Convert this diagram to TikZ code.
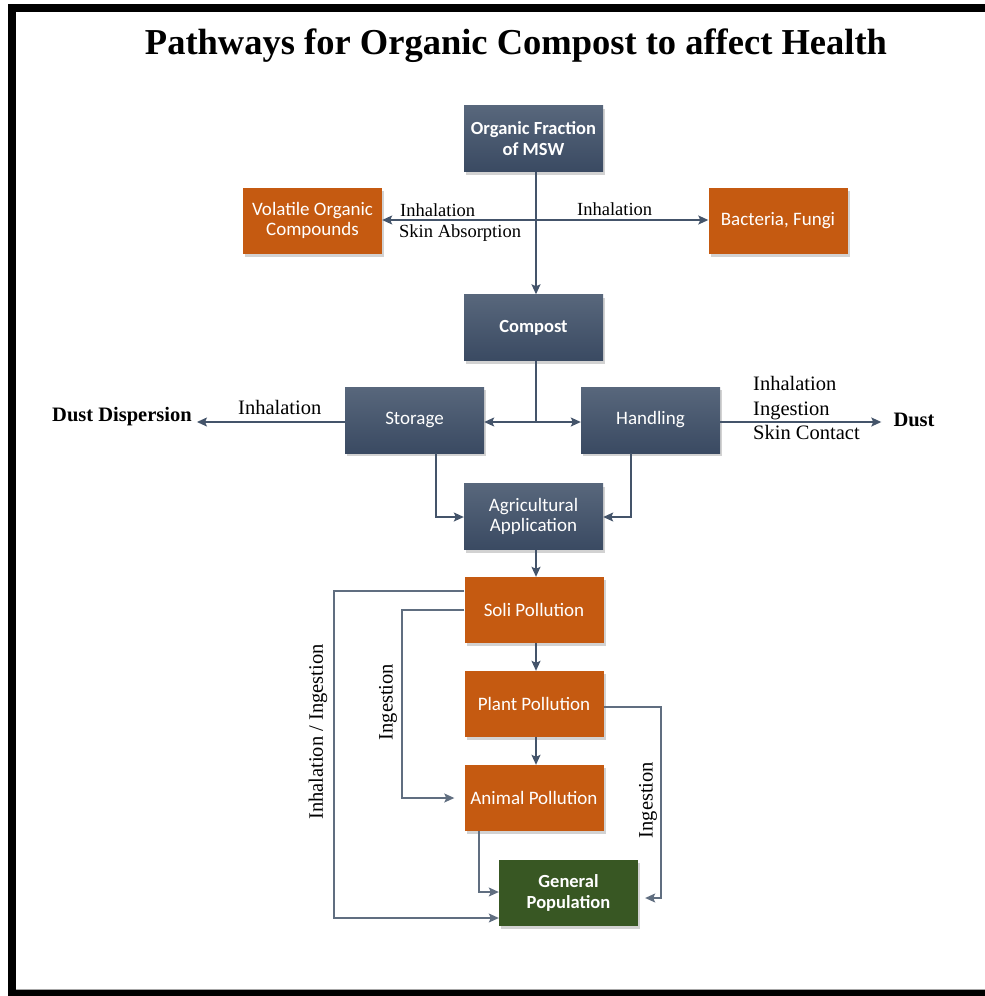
\documentclass[tikz,border=0pt]{standalone}
\usepackage{fontspec}
\setmainfont{Liberation Serif}
\newfontfamily\boxfont{Carlito}
\usetikzlibrary{arrows.meta,shadows,calc}
\definecolor{slate}{HTML}{44546A}
\definecolor{darkA}{HTML}{58677C}
\definecolor{darkB}{HTML}{3A4A62}
\definecolor{orangebox}{HTML}{C55A11}
\definecolor{greenbox}{HTML}{385723}
\begin{document}
\begin{tikzpicture}[x=1pt,y=-1pt,
  box/.style={minimum width=139pt,minimum height=66pt,inner sep=2pt,align=center,text=white,
    font=\boxfont\fontsize{19}{20.5}\selectfont,
    drop shadow={opacity=0.35,shadow xshift=2pt,shadow yshift=-3pt}},
  boldtext/.style={font=\boxfont\bfseries\fontsize{18.5}{20.5}\selectfont},
  darkbox/.style={box,top color=darkA,bottom color=darkB},
  orangenode/.style={box,fill=orangebox},
  greennode/.style={box,fill=greenbox},
  lbl/.style={inner sep=0pt,font=\fontsize{18.5}{22}\selectfont},
  biglbl/.style={inner sep=0pt,font=\fontsize{20.5}{24}\selectfont},
  boldlbl/.style={inner sep=0pt,font=\bfseries\fontsize{20.5}{24}\selectfont},
  arr/.style={draw=slate,line width=1.4pt,-{Stealth[length=10pt,width=9pt,inset=2pt]}},
  darr/.style={draw=slate,line width=1.4pt,{Stealth[length=10pt,width=9pt,inset=2pt]}-{Stealth[length=10pt,width=9pt,inset=2pt]}},
  ln/.style={draw=slate,line width=1.4pt},
  thinarr/.style={draw=slate!85,line width=1.2pt,-{Stealth[length=10pt,width=9pt,inset=2pt]}}
]
% background and frame
\fill[white] (0,0) rectangle (985,996);
\useasboundingbox (0,0) rectangle (985,996);
\fill[black] (8,4) rectangle (985,12);
\fill[black] (8,4) rectangle (16,996);
\fill[black] (8,990) rectangle (985,996);
\draw[gray!70,line width=1pt] (16,989.5) -- (985,989.5);

% title
\node[inner sep=0pt,font=\bfseries\fontsize{36.5}{40}\selectfont] (title) at (516,46) {Pathways for Organic Compost to affect Health};

% boxes
\node[darkbox,boldtext] (ofm) at (533.5,138.5) {Organic Fraction\\of MSW};
\node[orangenode] (voc) at (312.5,220.5) {Volatile Organic\\Compounds};
\node[orangenode] (bac) at (778,220.5) {Bacteria, Fungi};
\node[darkbox,boldtext] (comp) at (533.5,327.5) {Compost};
\node[darkbox] (stor) at (414.5,420) {Storage};
\node[darkbox] (hand) at (650.5,420) {Handling};
\node[darkbox] (agri) at (533.5,516.5) {Agricultural\\Application};
\node[orangenode] (soil) at (534,610) {Soli Pollution};
\node[orangenode] (plant) at (534,704) {Plant Pollution};
\node[orangenode] (animal) at (534,798) {Animal Pollution};
\node[greennode,boldtext] (gen) at (568.5,893) {General\\Population};

% end labels
\node[boldlbl] (dd) at (122,417) {Dust Dispersion};
\node[boldlbl] (dust) at (914,420) {Dust};

% junction coordinates
\coordinate (j1) at (536,220);
\coordinate (j2) at (536,422);

% main flow
\draw[arr] ([xshift=2.5pt]ofm.south) -- ([xshift=2.5pt]comp.north);
\draw[arr] (j1) -- (voc.east |- j1);
\draw[arr] (j1) -- (bac.west |- j1);
\draw[ln] ([xshift=2.5pt]comp.south) -- (j2);
\draw[darr] (stor.east |- j2) -- (hand.west |- j2);
\draw[arr] (stor.west |- j2) -- ($(dd.east |- j2)+(5,0)$);
\draw[arr] (hand.east |- j2) -- ($(dust.west |- j2)+(-12,0)$);
\draw[arr] ([xshift=21.5pt]stor.south) |- (agri.west |- 0,517);
\draw[arr] ([xshift=-19.5pt]hand.south) |- (agri.east |- 0,517);
\draw[arr] ([xshift=2.5pt]agri.south) -- ([xshift=2pt]soil.north);
\draw[arr] ([xshift=2pt]soil.south) -- ([xshift=2pt]plant.north);
\draw[arr] ([xshift=2pt]plant.south) -- ([xshift=2pt]animal.north);

% side pathways
\coordinate (c1) at (334,591);
\coordinate (c2) at (402,610);
\coordinate (c3) at (661,707);
\draw[thinarr] (soil.west |- c1) -- (c1) |- (gen.west |- 0,918);
\draw[thinarr,shorten >=10pt] (soil.west |- c2) -- (c2) |- (animal.west);
\draw[thinarr,shorten >=7pt] (plant.east |- c3) -- (c3) |- (gen.east |- 0,898);
\draw[thinarr] ([xshift=-55pt]animal.south) |- (gen.west |- 0,892);

% labels
\node[lbl,anchor=base west] (l1) at (400,216) {Inhalation};
\node[lbl,anchor=base west] (l2) at (399,237) {Skin Absorption};
\node[lbl,anchor=base west] (l3) at (577,215) {Inhalation};
\node[biglbl,anchor=base west] (l4) at (238,414) {Inhalation};
\node[biglbl,anchor=base west] (l5) at (753,390) {Inhalation};
\node[biglbl,anchor=base west] (l6) at (753,415) {Ingestion};
\node[biglbl,anchor=base west] (l7) at (753,439) {Skin Contact};
\node[biglbl,rotate=90] (l8) at (318,732) {Inhalation / Ingestion};
\node[biglbl,rotate=90] (l9) at (388,702) {Ingestion};
\node[biglbl,rotate=90] (l10) at (648,800) {Ingestion};
\end{tikzpicture}
\end{document}
